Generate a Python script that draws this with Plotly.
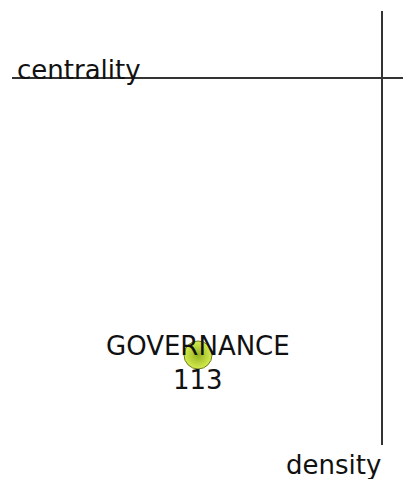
import plotly.graph_objects as go

# Data (strategic diagram: density on x, centrality on y; axes cross at 0)
themes = ["GOVERNANCE"]
counts = [113]
density = [-184]
centrality = [-277]

# Axis extents
x_range = [-382, 21]
y_range = [-401, 78]
h_line_x = [-370, 21]
v_line_y = [-367, 67]

fig = go.Figure()

fig.add_trace(go.Scatter(
    x=density, y=centrality,
    mode="markers",
    marker=dict(size=28, color="#d6ec50",
                gradient=dict(type="radial", color="#94b21e"),
                line=dict(color="#6e7f1c", width=1)),
    hoverinfo="skip", showlegend=False,
))

for t, c, dx, dy in zip(themes, counts, density, centrality):
    fig.add_annotation(x=dx, y=dy, text=f"{t}<br>{c}", showarrow=False,
                       xanchor="center", yanchor="middle", yshift=-8,
                       font=dict(family="DejaVu Sans", size=26, color="#111111"))

# crosshair lines
fig.add_shape(type="line", x0=h_line_x[0], x1=h_line_x[1], y0=0, y1=0,
              line=dict(color="#333333", width=2), layer="below")
fig.add_shape(type="line", x0=0, x1=0, y0=v_line_y[0], y1=v_line_y[1],
              line=dict(color="#333333", width=2), layer="below")

fig.add_annotation(x=-367, y=0, text="centrality", showarrow=False,
                   xanchor="left", yanchor="bottom", yshift=-9,
                   font=dict(family="DejaVu Sans", size=26, color="#111111"))
fig.add_annotation(x=1, y=-401, text="density", showarrow=False,
                   xanchor="right", yanchor="bottom", yshift=-3,
                   font=dict(family="DejaVu Sans", size=26, color="#111111"))

fig.update_layout(
    width=403, height=479,
    margin=dict(l=0, r=0, t=0, b=0),
    paper_bgcolor="white", plot_bgcolor="white",
    xaxis=dict(range=x_range, visible=False, fixedrange=True),
    yaxis=dict(range=y_range, visible=False, fixedrange=True),
)

fig.write_html("out.html", config={"displayModeBar": False},
               post_script="document.body.style.margin='0';document.body.style.overflow='hidden';")
